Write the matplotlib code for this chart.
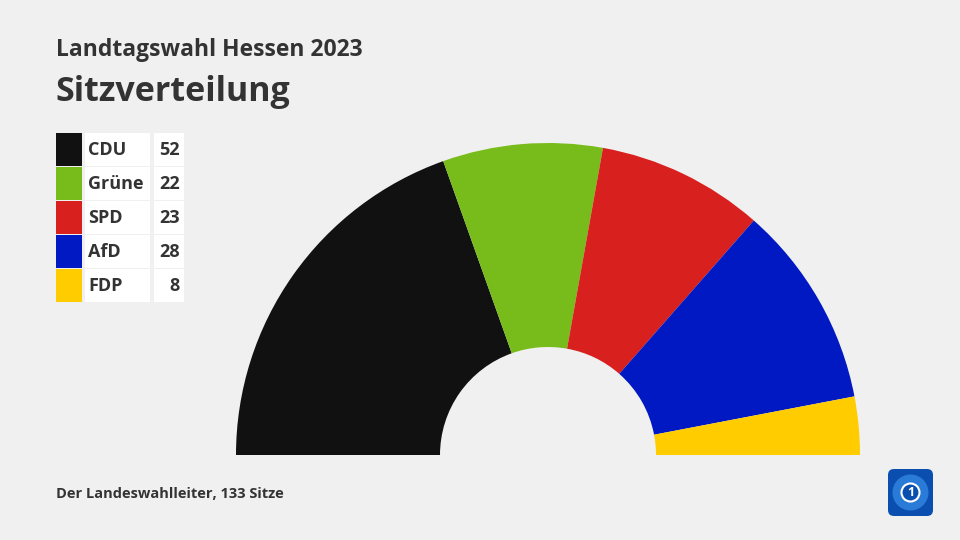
import matplotlib.pyplot as plt
from matplotlib.patches import Wedge, Rectangle, FancyBboxPatch, Circle

# Data
parties = ['CDU', 'Grüne', 'SPD', 'AfD', 'FDP']
seats = [52, 22, 23, 28, 8]
colors = ['#111111', '#78bc1b', '#d8201f', '#0019c2', '#ffcc00']
total = sum(seats)

plt.rcParams['font.family'] = ['Open Sans', 'DejaVu Sans']
text_color = '#333333'

fig = plt.figure(figsize=(9.6, 5.4), dpi=100)
fig.patch.set_facecolor('#f0f0f0')
ax = fig.add_axes([0, 0, 1, 1])
ax.set_xlim(0, 960)
ax.set_ylim(540, 0)
ax.axis('off')

# Half donut (y axis is inverted, so angles run clockwise on screen)
cx, cy = 548, 455
r_out, r_in = 312, 108
start = 180
for party, n, c in zip(parties, seats, colors):
    span = n / total * 180
    ax.add_patch(Wedge((cx, cy), r_out, start, start + span,
                       width=r_out - r_in, facecolor=c, edgecolor='none'))
    start += span

# Titles
fig.text(56 / 960, 1 - 50 / 540, 'Landtagswahl Hessen 2023', fontsize=16.5,
         fontweight='bold', color=text_color, va='center')
fig.text(55 / 960, 1 - 92 / 540, 'Sitzverteilung', fontsize=24.5,
         fontweight='bold', color=text_color, va='center')
fig.text(56 / 960, 1 - 494 / 540, 'Der Landeswahlleiter, 133 Sitze', fontsize=10.5,
         fontweight='bold', color=text_color, va='center')

# Legend table
row_top = 133
row_h = 34
for i, (party, n, c) in enumerate(zip(parties, seats, colors)):
    y0 = row_top + i * row_h
    ax.add_patch(Rectangle((56, y0), 26, row_h - 1, facecolor=c, edgecolor='none'))
    ax.add_patch(Rectangle((85, y0), 65, row_h - 1, facecolor='white', edgecolor='none'))
    ax.add_patch(Rectangle((154, y0), 30, row_h - 1, facecolor='white', edgecolor='none'))
    ax.text(88, y0 + row_h / 2, party, fontsize=13, fontweight='bold',
            color=text_color, va='center', ha='left')
    ax.text(180, y0 + row_h / 2, str(n), fontsize=13, fontweight='bold',
            color=text_color, va='center', ha='right')

# Logo
ax.add_patch(FancyBboxPatch((888, 469), 45, 47, boxstyle='round,pad=0,rounding_size=6',
                            facecolor='#0a4fb0', edgecolor='none'))
ax.add_patch(Circle((910.5, 492.5), 18, facecolor='#2a7ad8', edgecolor='none'))
ax.add_patch(Circle((910.5, 492.5), 9, facecolor='#0a4fb0', edgecolor='white', linewidth=1.5))
ax.text(910.5, 493, '1', fontsize=9, fontweight='bold', color='white', ha='center', va='center')

fig.savefig('out.png', dpi=100, facecolor=fig.get_facecolor())
